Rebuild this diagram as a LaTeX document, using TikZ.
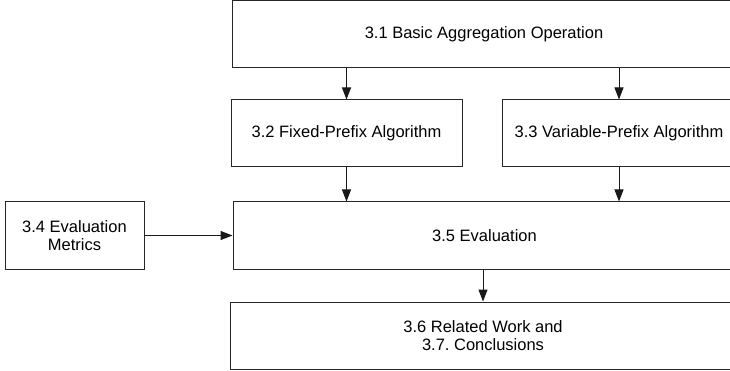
\documentclass[tikz,border=0pt]{standalone}
\usepackage{fontspec}
\setmainfont{Liberation Sans}
\usetikzlibrary{arrows.meta}

\begin{document}
\begin{tikzpicture}[x=1pt, y=-1pt,
    box/.style={draw=black!85, line width=1pt, align=center, inner sep=0pt,
        minimum height=67pt, font=\fontsize{16.5}{18.5}\selectfont},
    arr/.style={draw=black!90, line width=1pt, -{Triangle[length=12pt,width=9pt]}}]
    \clip (0,0) rectangle (730,371);

    % Boxes
    \node[box, minimum width=504pt] (basic) at (484,34.5) {3.1 Basic Aggregation Operation};
    \node[box, minimum width=231pt] (fixed) at (346.5,133.5) {3.2 Fixed-Prefix Algorithm};
    \node[box, minimum width=234pt] (variable) at (619,133.5) {3.3 Variable-Prefix Algorithm};
    \node[box, minimum width=139pt] (metrics) at (74.5,235.5) {3.4 Evaluation\\Metrics};
    \node[box, minimum width=503pt] (eval) at (484.5,235.5) {3.5 Evaluation};
    \node[box, minimum width=506pt] (related) at (483,335.5) {3.6 Related Work and\\3.7.\ Conclusions};

    % Arrows
    \draw[arr] (basic.south -| fixed.north) -- (fixed.north);
    \draw[arr] (basic.south -| variable.north) -- (variable.north);
    \draw[arr] (fixed.south) -- (fixed.south |- eval.north);
    \draw[arr] (variable.south) -- (variable.south |- eval.north);
    \draw[arr] (metrics.east) -- (eval.west);
    \draw[arr] (eval.south -| related.north) -- (related.north);
\end{tikzpicture}
\end{document}
